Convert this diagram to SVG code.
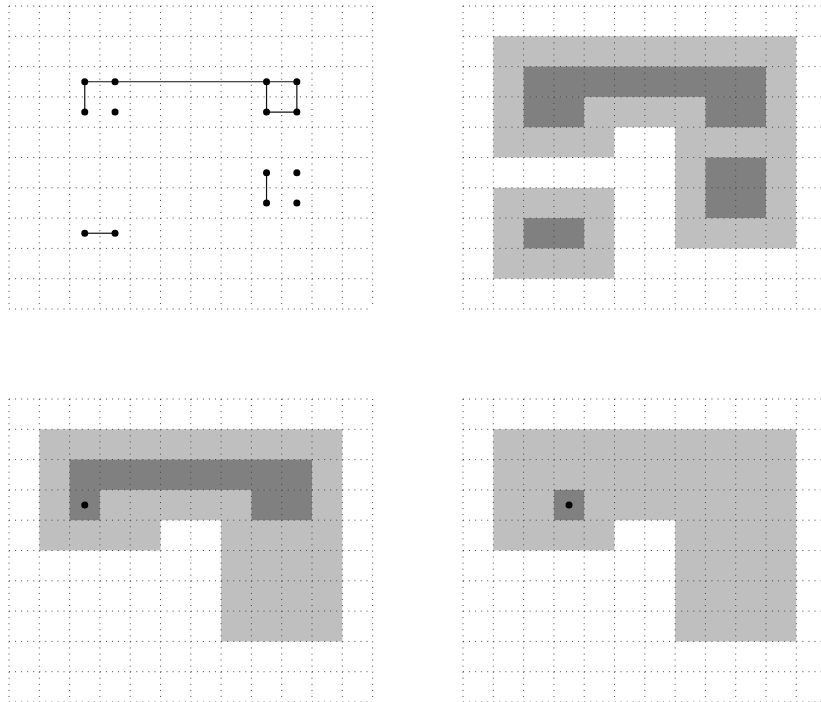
<svg xmlns="http://www.w3.org/2000/svg" xmlns:xlink="http://www.w3.org/1999/xlink" width="821" height="702" viewBox="0 0 821 702">
<style>
.grid line{stroke:#444;stroke-width:1;stroke-dasharray:1 5.06;fill:none}
.light{fill:#bfbfbf}
.dark{fill:#808080}
.edge{stroke:#111;stroke-width:1.2;fill:none}
.dot{fill:#000}
</style>
<defs>
<g id="grid" class="grid">
<line x1="0" y1="0" x2="363.6" y2="0"/>
<line x1="0" y1="30.3" x2="363.6" y2="30.3"/>
<line x1="0" y1="60.6" x2="363.6" y2="60.6"/>
<line x1="0" y1="90.9" x2="363.6" y2="90.9"/>
<line x1="0" y1="121.2" x2="363.6" y2="121.2"/>
<line x1="0" y1="151.5" x2="363.6" y2="151.5"/>
<line x1="0" y1="181.8" x2="363.6" y2="181.8"/>
<line x1="0" y1="212.1" x2="363.6" y2="212.1"/>
<line x1="0" y1="242.4" x2="363.6" y2="242.4"/>
<line x1="0" y1="272.7" x2="363.6" y2="272.7"/>
<line x1="0" y1="303" x2="363.6" y2="303"/>
<line x1="0" y1="0" x2="0" y2="303"/>
<line x1="30.3" y1="0" x2="30.3" y2="303"/>
<line x1="60.6" y1="0" x2="60.6" y2="303"/>
<line x1="90.9" y1="0" x2="90.9" y2="303"/>
<line x1="121.2" y1="0" x2="121.2" y2="303"/>
<line x1="151.5" y1="0" x2="151.5" y2="303"/>
<line x1="181.8" y1="0" x2="181.8" y2="303"/>
<line x1="212.1" y1="0" x2="212.1" y2="303"/>
<line x1="242.4" y1="0" x2="242.4" y2="303"/>
<line x1="272.7" y1="0" x2="272.7" y2="303"/>
<line x1="303" y1="0" x2="303" y2="303"/>
<line x1="333.3" y1="0" x2="333.3" y2="303"/>
<line x1="363.6" y1="0" x2="363.6" y2="303"/>
</g>
<path id="regionA" d="M30.3 30.3H333.3V242.4H212.1V121.2H151.5V151.5H30.3Z"/>
</defs>

<!-- Panel 1: top-left graph -->
<g id="panel1" transform="translate(9,6)">
<use xlink:href="#grid"/>
<g id="connectors">
<path class="edge" d="M75.75 75.75H287.85"/>
<path class="edge" d="M75.75 75.75V106.05"/>
<path class="edge" d="M257.55 75.75V106.05H287.85V75.75"/>
<path class="edge" d="M257.55 166.65V196.95"/>
<path class="edge" d="M75.75 227.25H106.05"/>
</g>
<g id="n1"><circle class="dot" cx="75.75" cy="75.75" r="3.5"/></g>
<g id="n2"><circle class="dot" cx="106.05" cy="75.75" r="3.5"/></g>
<g id="n3"><circle class="dot" cx="75.75" cy="106.05" r="3.5"/></g>
<g id="n4"><circle class="dot" cx="106.05" cy="106.05" r="3.5"/></g>
<g id="n5"><circle class="dot" cx="257.55" cy="75.75" r="3.5"/></g>
<g id="n6"><circle class="dot" cx="287.85" cy="75.75" r="3.5"/></g>
<g id="n7"><circle class="dot" cx="257.55" cy="106.05" r="3.5"/></g>
<g id="n8"><circle class="dot" cx="287.85" cy="106.05" r="3.5"/></g>
<g id="n9"><circle class="dot" cx="257.55" cy="166.65" r="3.5"/></g>
<g id="n10"><circle class="dot" cx="287.85" cy="166.65" r="3.5"/></g>
<g id="n11"><circle class="dot" cx="257.55" cy="196.95" r="3.5"/></g>
<g id="n12"><circle class="dot" cx="287.85" cy="196.95" r="3.5"/></g>
<g id="n13"><circle class="dot" cx="75.75" cy="227.25" r="3.5"/></g>
<g id="n14"><circle class="dot" cx="106.05" cy="227.25" r="3.5"/></g>
</g>

<!-- Panel 2: top-right -->
<g id="panel2" transform="translate(463,6)">
<use xlink:href="#regionA" class="light"/>
<rect class="light" x="30.3" y="181.8" width="121.2" height="90.9"/>
<rect class="dark" x="60.6" y="60.6" width="242.4" height="30.3"/>
<rect class="dark" x="60.6" y="90.9" width="60.6" height="30.3"/>
<rect class="dark" x="242.4" y="90.9" width="60.6" height="30.3"/>
<rect class="dark" x="242.4" y="151.5" width="60.6" height="60.6"/>
<rect class="dark" x="60.6" y="212.1" width="60.6" height="30.3"/>
<use xlink:href="#grid"/>
</g>

<!-- Panel 3: bottom-left -->
<g id="panel3" transform="translate(9,399)">
<use xlink:href="#regionA" class="light"/>
<rect class="dark" x="60.6" y="60.6" width="242.4" height="30.3"/>
<rect class="dark" x="60.6" y="90.9" width="30.3" height="30.3"/>
<rect class="dark" x="242.4" y="90.9" width="60.6" height="30.3"/>
<use xlink:href="#grid"/>
<circle class="dot" cx="75.75" cy="106.05" r="3.5"/>
</g>

<!-- Panel 4: bottom-right -->
<g id="panel4" transform="translate(463,399)">
<use xlink:href="#regionA" class="light"/>
<rect class="dark" x="90.9" y="90.9" width="30.3" height="30.3"/>
<use xlink:href="#grid"/>
<circle class="dot" cx="106.05" cy="106.05" r="3.5"/>
</g>
</svg>
